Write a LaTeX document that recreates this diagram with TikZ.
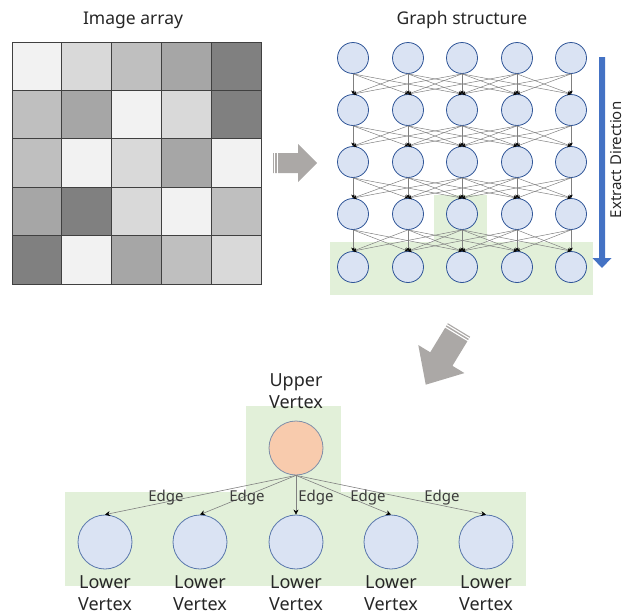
\documentclass[tikz,border=0pt]{standalone}
\usepackage{fontspec}
\setmainfont{Noto Sans}
\usetikzlibrary{arrows.meta}
\definecolor{nodefill}{HTML}{DAE3F3}
\definecolor{nodeline}{HTML}{2F5597}
\definecolor{orangefill}{HTML}{F8CBAD}
\definecolor{orangeline}{HTML}{7F8FA9}
\definecolor{greenbg}{HTML}{E2F0D9}
\definecolor{arrowgray}{HTML}{ABA8A6}
\definecolor{bluearrow}{HTML}{4472C4}
\definecolor{edgegray}{HTML}{808080}
\definecolor{txt}{HTML}{262626}
\definecolor{ga}{gray}{0.949}
\definecolor{gb}{gray}{0.851}
\definecolor{gc}{gray}{0.749}
\definecolor{gd}{gray}{0.651}
\definecolor{ge}{gray}{0.502}
\begin{document}
\begin{tikzpicture}[x=1pt,y=-1pt,
  gnode/.style={circle, draw=nodeline, fill=nodefill, line width=0.8pt, minimum size=31pt, inner sep=0pt},
  bignode/.style={circle, draw=nodeline!80, fill=nodefill, line width=0.8pt, minimum size=54pt, inner sep=0pt},
  upnode/.style={bignode, fill=orangefill, draw=orangeline},
  gedge/.style={draw=edgegray, line width=0.5pt, -{Stealth[length=3.5pt,width=3.5pt,black]}},
  vedge/.style={draw=edgegray, line width=0.6pt, -{Stealth[length=5pt,width=5pt,black]}},
  title/.style={font=\fontsize{17.5}{21}\selectfont, text=txt},
  vlabel/.style={font=\fontsize{18}{21.5}\selectfont, text=txt, align=center, inner sep=0pt},
  elabel/.style={font=\fontsize{15}{17}\selectfont, text=txt!90, inner sep=0pt},
  cell/.style={draw=black!75, line width=0.8pt}]
\useasboundingbox (0,0) rectangle (630,616);

% titles
\node[title] (t1) at (133,20) {Image array};
\node[title] (t2) at (462,20) {Graph structure};

% image grid
\foreach \row [count=\r from 0] in {{a,b,c,d,e},{c,d,a,b,e},{c,a,b,d,a},{d,e,b,a,c},{e,a,d,c,b}} {
  \foreach \c [count=\k from 0] in \row {
    \draw[cell, fill=g\c] ({12+49.8*\k},{42+48.4*\r}) rectangle ({12+49.8*(\k+1)},{42+48.4*(\r+1)});
  }
}

% right gray arrow
\fill[arrowgray] (273,153) -- (298,153) -- (298,144) -- (317,163) -- (298,182) -- (298,173) -- (273,173) -- cycle;
\draw[white, line width=1.1pt] (274.8,152) -- (274.8,174);
\draw[white, line width=1.1pt] (277.6,152) -- (277.6,174);

% green highlights (graph)
\fill[greenbg] (330,242) rectangle (593,295);
\fill[greenbg] (434,195) rectangle (487,242);

% graph nodes
\foreach \x [count=\c] in {353,408,462,517,571} {
  \foreach \y [count=\r] in {58,110,162,214,267} {
    \node[gnode] (n\r\c) at (\x,\y) {};
  }
}
\foreach \r in {1,...,4} {
  \pgfmathtruncatemacro\rn{\r+1}
  \foreach \c in {1,...,5} {
    \foreach \d in {1,...,5} {
      \pgfmathtruncatemacro\diff{abs(\c-\d)}
      \ifnum\diff<3
        \draw[gedge] (n\r\c.south) -- (n\rn\d.north);
      \fi
    }
  }
}

% blue direction arrow
\fill[bluearrow] (599,57) -- (605,57) -- (605,258) -- (611.5,258) -- (602,268) -- (592.5,258) -- (599,258) -- cycle;
\node[rotate=90, font=\fontsize{15}{17}\selectfont, text=txt] (extract) at (616,160) {Extract Direction};

% down-left gray arrow
\begin{scope}[shift={(459,330)}, rotate=-121.3]
  \fill[arrowgray] (0,-13) -- (34,-13) -- (34,-27) -- (64,0) -- (34,27) -- (34,13) -- (0,13) -- cycle;
  \draw[white, line width=1.1pt] (1.8,-14) -- (1.8,14);
  \draw[white, line width=1.1pt] (4.6,-14) -- (4.6,14);
\end{scope}

% lower part green
\fill[greenbg] (246,406) rectangle (341,493);
\fill[greenbg] (65,492) rectangle (526,586);

\node[upnode] (up) at (296,448) {};
\node[vlabel] (uplab) at (296,391) {Upper\\Vertex};
\foreach \x [count=\i] in {105,200,296,391,486} {
  \node[bignode] (low\i) at (\x,542) {};
  \node[vlabel] (lowlab\i) at (\x,593) {Lower\\Vertex};
  \draw[vedge] (up.south) -- (low\i.north);
}
\foreach \x [count=\i] in {166,247,316,368,442} {
  \node[elabel] (e\i) at (\x,498) {Edge};
}
\end{tikzpicture}
\end{document}
